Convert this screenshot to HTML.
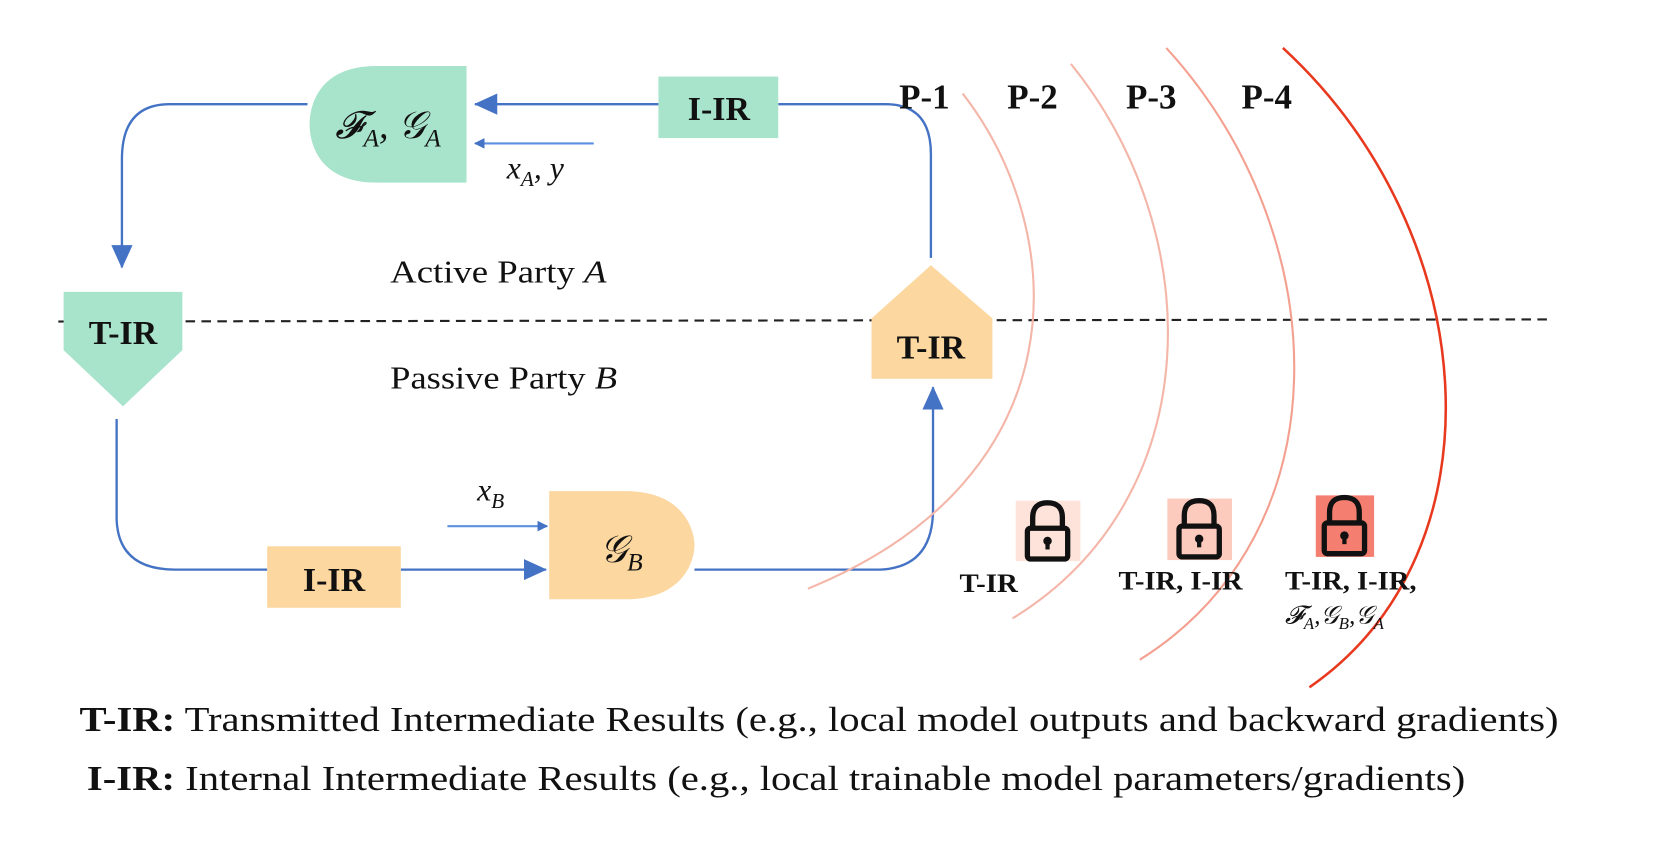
<!DOCTYPE html>
<html><head><meta charset="utf-8"><style>
html,body{margin:0;padding:0;background:#fff;}
svg{display:block;}
text{font-family:"Liberation Serif",serif;}
</style></head><body>
<svg width="1654" height="854" viewBox="0 0 1560 805" xmlns="http://www.w3.org/2000/svg">
<defs>
<marker id="ah" markerWidth="10" markerHeight="10" refX="9" refY="5" orient="auto" markerUnits="userSpaceOnUse"><path d="M0,0 L10,5 L0,10 Z" fill="#4472c4"/></marker>
<marker id="ab" markerWidth="22" markerHeight="20" refX="21" refY="10" orient="auto" markerUnits="userSpaceOnUse"><path d="M0,0 L22,10 L0,20 Z" fill="#4472c4"/></marker>
</defs>
<line x1="55" y1="303" x2="1465" y2="301" stroke="#222" stroke-width="2" stroke-dasharray="9,6"/>
<g fill="none" stroke="#4472c4" stroke-width="2.2">
<path d="M290,98 L160,98 Q115,98 115,150 L115,252" marker-end="url(#ab)"/>
<path d="M621,98 L448,98" marker-end="url(#ab)"/>
<path d="M734,98 L835,98 Q878,98 878,145 L878,243"/>
<path d="M110,395 L110,490 Q112,537 165,537 L252,537"/>
<path d="M378,537 L515,537" marker-end="url(#ab)"/>
<path d="M655,537 L830,537 Q880,535 880,480 L880,365" marker-end="url(#ab)"/>
</g>
<g fill="none" stroke="#5b8fe0" stroke-width="2">
<path d="M560,135 L448,135" marker-end="url(#ah)"/>
<path d="M422,496 L516,496" marker-end="url(#ah)"/>
</g>
<path d="M440,62 L355,62 C300,62 292,100 292,117 C292,134 300,172 355,172 L440,172 Z" fill="#a8e4cc"/>
<rect x="621" y="72" width="113" height="58" fill="#a8e4cc"/>
<path d="M60,275 L172,275 L172,330 L116,383 L60,330 Z" fill="#a8e4cc"/>
<path d="M822,300 L878,250 L936,300 L936,357 L822,357 Z" fill="#fcd79f"/>
<rect x="252" y="515" width="126" height="58" fill="#fcd79f"/>
<path d="M518,463 L590,463 C645,463 655,500 655,514 C655,528 645,565 590,565 L518,565 Z" fill="#fcd79f"/>
<g font-weight="bold" font-size="32" text-anchor="middle" fill="#111">
<text x="678" y="113">I-IR</text>
<text x="116" y="324">T-IR</text>
<text x="878" y="338">T-IR</text>
<text x="315" y="557">I-IR</text>
</g>
<text x="366" y="130" font-size="36" font-style="italic" text-anchor="middle" fill="#111">𝓕<tspan font-size="24" dy="8">A</tspan><tspan dy="-8">, 𝒢</tspan><tspan font-size="24" dy="8">A</tspan></text>
<text x="586" y="530" font-size="36" font-style="italic" text-anchor="middle" fill="#111">𝒢<tspan font-size="24" dy="8">B</tspan></text>
<text x="478" y="168" font-size="30" font-style="italic" fill="#111">x<tspan font-size="20" dy="7">A</tspan><tspan dy="-7">, y</tspan></text>
<text x="450" y="472" font-size="30" font-style="italic" fill="#111">x<tspan font-size="20" dy="7">B</tspan></text>
<text x="368" y="266" font-size="30" fill="#111" textLength="204" lengthAdjust="spacingAndGlyphs">Active Party <tspan font-style="italic">A</tspan></text>
<text x="368" y="366" font-size="30" fill="#111" textLength="214" lengthAdjust="spacingAndGlyphs">Passive Party <tspan font-style="italic">B</tspan></text>
<g fill="none" stroke-width="2">
<path d="M908,88 C1010,220 1020,450 762,555" stroke="#f4b6a8"/>
<path d="M1010,60 C1140,220 1140,470 955,583" stroke="#f4b6a8"/>
<path d="M1100,45 C1260,220 1270,500 1075,622" stroke="#f4a090"/>
<path d="M1210,45 C1400,220 1420,520 1235,648" stroke="#e8381e" stroke-width="2.4"/>
</g>
<g font-weight="bold" font-size="33" fill="#111">
<text x="848" y="102">P-1</text>
<text x="950" y="102">P-2</text>
<text x="1062" y="102">P-3</text>
<text x="1171" y="102">P-4</text>
</g>
<g>
<rect x="958" y="472" width="61" height="57" fill="#fde3da"/>
<rect x="1101" y="470" width="61" height="58" fill="#fccbbd"/>
<rect x="1241" y="467" width="55" height="58" fill="#f47f70"/>
<g fill="none" stroke="#111" stroke-width="5" stroke-linejoin="round">
<path d="M974,498 L974,488 Q974,474 988,474 Q1002,474 1002,488 L1002,498"/><rect x="969" y="498" width="38" height="29" rx="3"/>
<path d="M1117,496 L1117,486 Q1117,472 1131,472 Q1145,472 1145,486 L1145,496"/><rect x="1112" y="496" width="38" height="29" rx="3"/>
<path d="M1254,493 L1254,483 Q1254,469 1268,469 Q1282,469 1282,483 L1282,493"/><rect x="1249" y="493" width="38" height="29" rx="3"/>
</g>
<g fill="#111"><circle cx="988" cy="510" r="4"/><rect x="986" y="510" width="4" height="8"/>
<circle cx="1131" cy="508" r="4"/><rect x="1129" y="508" width="4" height="8"/>
<circle cx="1268" cy="505" r="4"/><rect x="1266" y="505" width="4" height="8"/></g>
</g>
<g font-weight="bold" font-size="25" fill="#111">
<text x="905" y="558" textLength="55" lengthAdjust="spacingAndGlyphs">T-IR</text>
<text x="1055" y="556" textLength="117" lengthAdjust="spacingAndGlyphs">T-IR, I-IR</text>
<text x="1212" y="556" textLength="124" lengthAdjust="spacingAndGlyphs">T-IR, I-IR,</text>
</g>
<text x="1212" y="588" font-size="24" font-style="italic" fill="#111">𝓕<tspan font-size="16" dy="5">A</tspan><tspan dy="-5">,𝒢</tspan><tspan font-size="16" dy="5">B</tspan><tspan dy="-5">,𝒢</tspan><tspan font-size="16" dy="5">A</tspan></text>
<text x="75" y="689" font-size="33" fill="#111" textLength="1395" lengthAdjust="spacingAndGlyphs"><tspan font-weight="bold">T-IR:</tspan> Transmitted Intermediate Results (e.g., local model outputs and backward gradients)</text>
<text x="82" y="745" font-size="33" fill="#111" textLength="1300" lengthAdjust="spacingAndGlyphs"><tspan font-weight="bold">I-IR:</tspan> Internal Intermediate Results (e.g., local trainable model parameters/gradients)</text>
</svg>
</body></html>
